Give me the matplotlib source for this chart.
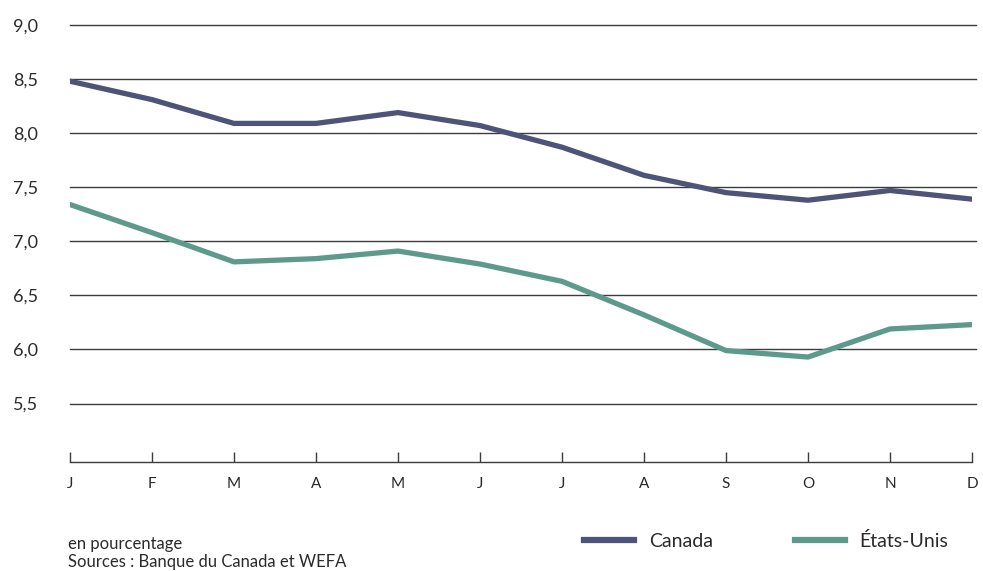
import matplotlib
matplotlib.use("Agg")
import matplotlib.pyplot as plt

months = ["J", "F", "M", "A", "M", "J", "J", "A", "S", "O", "N", "D"]
canada = [8.48, 8.31, 8.09, 8.09, 8.19, 8.07, 7.87, 7.61, 7.45, 7.38, 7.47, 7.39]
etats_unis = [7.34, 7.08, 6.81, 6.84, 6.91, 6.79, 6.63, 6.32, 5.99, 5.93, 6.19, 6.23]
y_ticks = [5.5, 6.0, 6.5, 7.0, 7.5, 8.0, 8.5, 9.0]
y_labels = ["5,5", "6,0", "6,5", "7,0", "7,5", "8,0", "8,5", "9,0"]

col_ca = "#4e5478"
col_us = "#5e9a8c"
grid_col = "#3c3c3c"
text_col = "#2a2a2a"

plt.rcParams["font.family"] = ["Lato", "DejaVu Sans"]

W, H = 983, 571
fig = plt.figure(figsize=(W / 100, H / 100), dpi=100)
left, right = 70, 972
top_px, bot_px = 22.8, 462
ax = fig.add_axes([left / W, 1 - bot_px / H, (right - left) / W, (bot_px - top_px) / H])

x = list(range(len(months)))
ax.set_xlim(0, len(months) - 1)
ax.set_ylim(4.96, 9.02)

for v in y_ticks:
    ax.axhline(v, color=grid_col, lw=1.0, zorder=1, xmax=1.004, clip_on=False)

ax.plot(x, canada, color=col_ca, lw=3.8, solid_capstyle="round",
        solid_joinstyle="round", zorder=3, label="Canada")
ax.plot(x, etats_unis, color=col_us, lw=3.8, solid_capstyle="round",
        solid_joinstyle="round", zorder=3, label="États-Unis")

for s in ["top", "right", "left"]:
    ax.spines[s].set_visible(False)
ax.spines["bottom"].set_color(grid_col)
ax.spines["bottom"].set_linewidth(1.0)

ax.set_yticks(y_ticks)
ax.set_yticklabels(y_labels)
ax.tick_params(axis="y", length=0, pad=41, labelsize=13, labelcolor=text_col)
for t in ax.get_yticklabels():
    t.set_horizontalalignment("left")

ax.set_xticks(x)
ax.set_xticklabels(months)
ax.tick_params(axis="x", direction="in", length=7, width=1.0, color=grid_col,
               pad=11, labelsize=11, labelcolor=text_col)

fig.text(68 / W, 1 - 544 / H, "en pourcentage", fontsize=12, color=text_col,
         va="center", ha="left")
fig.text(68 / W, 1 - 562 / H, "Sources : Banque du Canada et WEFA", fontsize=12,
         color=text_col, va="center", ha="left")

leg = fig.legend(handles=[
    plt.Line2D([], [], color=col_ca, lw=4.5),
    plt.Line2D([], [], color=col_us, lw=4.5)],
    labels=["Canada", "États-Unis"], ncol=2, frameon=False, fontsize=14,
    handlelength=2.6, handletextpad=0.75, columnspacing=4.2,
    loc="center left", bbox_to_anchor=(576 / W, 1 - 541 / H), borderaxespad=0)
for t in leg.get_texts():
    t.set_color(text_col)

fig.savefig("out.png", dpi=100)
